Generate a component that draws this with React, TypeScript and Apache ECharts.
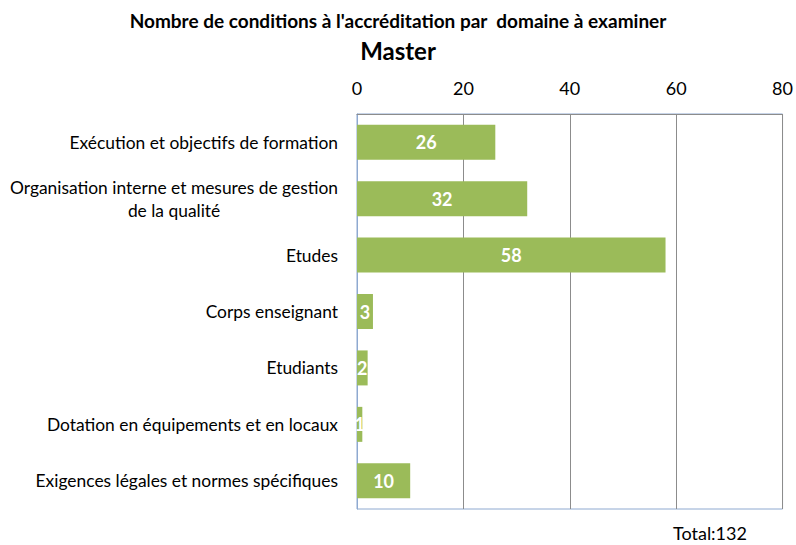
import React, { useEffect, useRef } from "react";
import * as echarts from "echarts";

const categories = [
  "Exécution et objectifs de formation",
  "Organisation interne et mesures de gestion\nde la qualité",
  "Etudes",
  "Corps enseignant",
  "Etudiants",
  "Dotation en équipements et en locaux",
  "Exigences légales et normes spécifiques",
];
const values = [26, 32, 58, 3, 2, 1, 10];
const titleText = "Nombre de conditions à l'accréditation par  domaine à examiner";
const subtitleText = "Master";
const totalText = "Total:132";

const FONT = "Lato, 'Open Sans', sans-serif";

export default function App() {
  const ref = useRef<HTMLDivElement>(null);
  useEffect(() => {
    document.body.style.margin = "0";
    if (!ref.current) return;
    const chart = echarts.init(ref.current, undefined, { renderer: "svg" });
    chart.setOption({
      animation: false,
      backgroundColor: "#ffffff",
      title: [
        {
          text: titleText,
          left: "center",
          top: 6,
          textStyle: { fontFamily: FONT, fontSize: 19, fontWeight: "bold", color: "#000" },
        },
        {
          text: subtitleText,
          left: "center",
          top: 33,
          textStyle: { fontFamily: FONT, fontSize: 24, fontWeight: "bold", color: "#000" },
        },
      ],
      grid: { left: 357, right: 13, top: 114, bottom: 36, show: true, borderColor: "#8EA9D0", borderWidth: 1 },
      xAxis: {
        type: "value",
        position: "top",
        min: 0,
        max: 80,
        interval: 20,
        axisLine: { show: true, lineStyle: { color: "#8c8c8c" } },
        axisTick: { show: false },
        axisLabel: { fontFamily: FONT, fontSize: 18, color: "#000", margin: 17 },
        splitLine: { show: true, lineStyle: { color: "#8c8c8c", width: 1 } },
      },
      yAxis: {
        type: "category",
        inverse: true,
        data: categories,
        axisLine: { show: true, lineStyle: { color: "#8EA9D0" } },
        axisTick: { show: false },
        axisLabel: {
          fontFamily: FONT,
          fontSize: 17.4,
          color: "#000",
          margin: 19,
          align: "right",
          formatter: (v: string) => v.split("\n").map((l) => `{c|${l}}`).join("\n"),
          rich: { c: { fontFamily: FONT, fontSize: 17.4, color: "#000", align: "center", lineHeight: 23 } },
        },
      },
      series: [
        {
          type: "bar",
          data: values,
          barCategoryGap: "38%",
          itemStyle: { color: "#9BBB59" },
          label: {
            show: true,
            position: "inside",
            color: "#fff",
            fontFamily: FONT,
            fontWeight: "bold",
            fontSize: 18,
          },
        },
      ],
      graphic: [
        {
          type: "text",
          left: 673,
          top: 524,
          style: { text: totalText, fontFamily: FONT, fontSize: 18, fill: "#000" },
        },
      ],
    });
    return () => chart.dispose();
  }, []);
  return <div ref={ref} style={{ width: 796, height: 545 }} />;
}
